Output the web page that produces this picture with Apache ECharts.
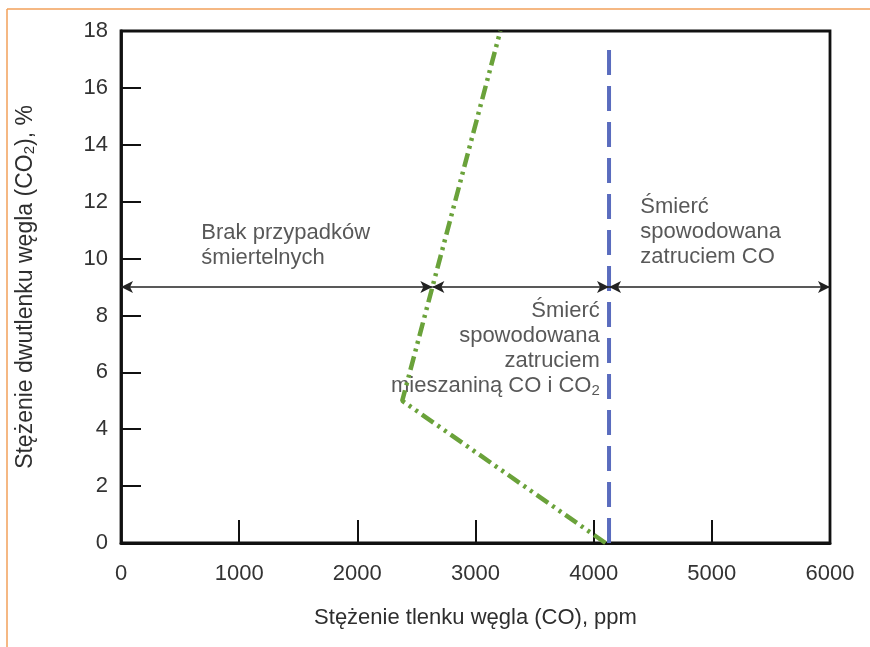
<!DOCTYPE html>
<html><head><meta charset="utf-8">
<script src="https://cdn.jsdelivr.net/npm/echarts@6/dist/echarts.min.js"></script>
<style>html,body{margin:0;padding:0;background:#fff}#c{width:870px;height:647px}</style>
</head><body><div id="c"></div>
<script>
// Data
const xTicks = [0, 1000, 2000, 3000, 4000, 5000, 6000];
const yTicks = [0, 2, 4, 6, 8, 10, 12, 14, 16, 18];
const boundaryCO = [[4100, 0], [2380, 5], [3210, 18]];   // green dash-dot-dot line (CO ppm, CO2 %)
const lethalCO = [[4130, 0], [4130, 17.4]];               // blue dashed line
const arrowLevel = 9;                                      // CO2 % level of arrows
const arrowStops = [0, 2635, 4130, 6000];                  // CO ppm break points
const annotations = [
  { pos: [680, 11.35], align: 'left', text: 'Brak przypadków\nśmiertelnych' },
  { pos: [4052, 8.6], align: 'right', text: 'Śmierć\nspowodowana\nzatruciem\nmieszaniną CO i CO{sub|2}' },
  { pos: [4395, 12.25], align: 'left', text: 'Śmierć\nspowodowana\nzatruciem CO' }
];
const xTitle = 'Stężenie tlenku węgla (CO), ppm';
const yTitle = 'Stężenie dwutlenku węgla (CO{sub|2}), %';

const FONT = "'Liberation Sans', Arial, sans-serif";
const chart = echarts.init(document.getElementById('c'));

const arrowSegments = [];
for (let i = 0; i < arrowStops.length - 1; i++) {
  arrowSegments.push([{ coord: [arrowStops[i], arrowLevel] }, { coord: [arrowStops[i + 1], arrowLevel] }]);
}

const subRich = { sub: { fontSize: 15, fontFamily: FONT, color: '#2e2e2e', verticalAlign: 'bottom', padding: [0, 0, 0, 0] } };

chart.setOption({
  animation: false,
  grid: { left: 121, right: 40, top: 31, bottom: 104, show: true, borderColor: '#111', borderWidth: 2.8, backgroundColor: 'transparent' },
  xAxis: {
    type: 'value', min: 0, max: 6000, interval: 1000,
    name: xTitle, nameLocation: 'middle', nameGap: 64,
    nameTextStyle: { fontFamily: FONT, fontSize: 22, color: '#2e2e2e' },
    axisLine: { show: true, lineStyle: { color: '#111', width: 2.8 } },
    axisTick: { show: true, inside: true, length: 23, lineStyle: { color: '#111', width: 2 } },
    axisLabel: { fontFamily: FONT, fontSize: 22, color: '#333', margin: 20, formatter: v => String(v) },
    splitLine: { show: false }
  },
  yAxis: {
    type: 'value', min: 0, max: 18, interval: 2,
    name: yTitle, nameLocation: 'middle', nameGap: 84,
    nameTextStyle: { fontFamily: FONT, fontSize: 23, color: '#2e2e2e', rich: subRich },
    axisLine: { show: true, lineStyle: { color: '#111', width: 2.8 } },
    axisTick: { show: true, inside: true, length: 20, lineStyle: { color: '#111', width: 2 } },
    axisLabel: { fontFamily: FONT, fontSize: 22, color: '#333', margin: 13 },
    splitLine: { show: false }
  },
  graphic: [
    { type: 'line', shape: { x1: 7, y1: 9, x2: 870, y2: 9 }, style: { stroke: '#f2a15a', lineWidth: 1.5 }, silent: true },
    { type: 'line', shape: { x1: 7, y1: 9, x2: 7, y2: 647 }, style: { stroke: '#f2a15a', lineWidth: 1.5 }, silent: true }
  ],
  series: [
    {
      type: 'line', data: boundaryCO, symbol: 'none', silent: true,
      lineStyle: { color: '#6aa23a', width: 4.5, type: [14, 5, 3, 5, 3, 5], cap: 'butt' }
    },
    {
      type: 'line', data: lethalCO, symbol: 'none', silent: true,
      lineStyle: { color: '#5a6cbe', width: 4, type: [25, 11], cap: 'butt' },
      markLine: {
        silent: true, symbol: ['arrow', 'arrow'], symbolSize: [9, 12],
        lineStyle: { color: '#222', width: 1.6, type: 'solid' },
        label: { show: false }, emphasis: { disabled: true },
        data: arrowSegments
      }
    },
    {
      type: 'scatter', symbolSize: 0, silent: true,
      data: annotations.map(a => ({
        value: a.pos,
        label: {
          show: true, position: [0, 0], align: a.align, verticalAlign: 'top',
          formatter: a.text, fontFamily: FONT, fontSize: 22, lineHeight: 25, color: '#2e2e2e',
          rich: { sub: { fontSize: 15, fontFamily: FONT, color: '#2e2e2e', verticalAlign: 'bottom', lineHeight: 25 } }
        }
      }))
    }
  ]
});
</script>
</body></html>
